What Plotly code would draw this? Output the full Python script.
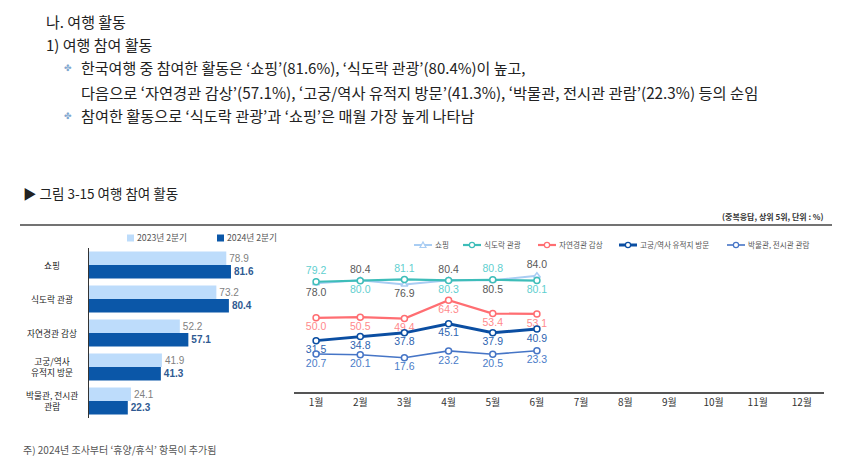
import plotly.graph_objects as go

W, H = 850, 475
OFF = 8  # page body margin of the html page

# ---------------- data ----------------
categories = ["쇼핑", "식도락 관광", "자연경관 감상", "고궁/역사 유적지 방문", "박물관, 전시관 관람"]
category_labels = ["쇼핑", "식도락 관광", "자연경관 감상", "고궁/역사<br>유적지 방문", "박물관, 전시관<br>관람"]
series_bar = ["2023년 2분기", "2024년 2분기"]
q2_2023 = [78.9, 73.2, 52.2, 41.9, 24.1]
q2_2024 = [81.6, 80.4, 57.1, 41.3, 22.3]

months = ["1월", "2월", "3월", "4월", "5월", "6월", "7월", "8월", "9월", "10월", "11월", "12월"]
series_line = ["쇼핑", "식도락 관광", "자연경관 감상", "고궁/역사 유적지 방문", "박물관, 전시관 관람"]
shopping = [78.0, 80.4, 76.9, 80.4, 80.5, 84.0]
food = [79.2, 80.0, 81.1, 80.3, 80.8, 80.1]
nature = [50.0, 50.5, 49.4, 64.3, 53.4, 53.1]
palace = [31.5, 34.8, 37.8, 45.1, 37.9, 40.9]
museum = [20.7, 20.1, 17.6, 23.2, 20.5, 23.3]

# label placement (above / below)
T, B = "top center", "bottom center"
shopping_pos = [B, T, B, T, B, T]
food_pos = [T, B, T, B, T, B]
nature_pos = [B, B, B, B, B, B]
palace_pos = [B, B, B, B, B, B]
museum_pos = [B, B, B, B, B, B]


def px(x):
    return (x - OFF) / W


def py(y):
    return 1 - (y - OFF) / H


KR = "Noto Sans CJK KR"
NUM = "Liberation Sans, Noto Sans CJK KR"

fig = go.Figure()

bar_colors = ["#BDDCFB", "#0B57A8"]

# ---------------- bar chart ----------------
fig.add_trace(go.Bar(
    y=categories, x=q2_2023, orientation="h", name=series_bar[0],
    marker=dict(color=bar_colors[0], line=dict(width=0)),
    text=[f"{v:.1f}" for v in q2_2023], textposition="outside",
    textfont=dict(family=NUM, size=10, color="#7F7F7F"),
    cliponaxis=False, xaxis="x", yaxis="y", showlegend=False,
))
fig.add_trace(go.Bar(
    y=categories, x=q2_2024, orientation="h", name=series_bar[1],
    marker=dict(color=bar_colors[1], line=dict(width=0)),
    text=[f"<b>{v:.1f}</b>" for v in q2_2024], textposition="outside",
    textfont=dict(family=NUM, size=10, color="#2F5A92"),
    cliponaxis=False, xaxis="x", yaxis="y", showlegend=False,
))

# ---------------- line chart ----------------
line_specs = [
    (shopping, shopping_pos, "#A9CDF3", 2, "triangle-up", "#595959"),
    (food, food_pos, "#3EBDB9", 2.2, "circle", "#5FCFCF"),
    (nature, nature_pos, "#FF6E72", 2.2, "circle", "#FF8A8C"),
    (palace, palace_pos, "#0B4EA2", 3, "circle", "#2E64B0"),
    (museum, museum_pos, "#4675C6", 1.6, "circle", "#4A7CC8"),
]
for name, (vals, pos, col, w, sym, tcol) in zip(series_line, line_specs):
    fig.add_trace(go.Scatter(
        x=months[:len(vals)], y=vals, name=name, mode="lines+markers+text",
        line=dict(color=col, width=w),
        marker=dict(symbol=sym, size=6, color="white", line=dict(color=col, width=1.5)),
        text=[f"{v:.1f}" for v in vals], textposition=pos,
        textfont=dict(family=NUM, size=10.5, color=tcol),
        cliponaxis=False, xaxis="x2", yaxis="y2", showlegend=False,
    ))

# ---------------- annotations ----------------
ann = []
shapes = []


def text(x, y, s, size, color="#222222", anchor="left", family=KR, **kw):
    ann.append(dict(x=px(x), y=py(y), xref="paper", yref="paper", text=s, showarrow=False,
                    xanchor=anchor, yanchor="middle", font=dict(family=family, size=size, color=color), **kw))


text(44, 21, "나. 여행 활동", 15)
text(44, 45, "1) 여행 참여 활동", 15)
text(62, 68, "✤", 9, color="#7FA7CF")
text(79, 68, "한국여행 중 참여한 활동은 ‘쇼핑’(81.6%), ‘식도락 관광’(80.4%)이 높고,", 15)
text(79, 92, "다음으로 ‘자연경관 감상’(57.1%), ‘고궁/역사 유적지 방문’(41.3%), ‘박물관, 전시관 관람’(22.3%) 등의 순임", 15.3)
text(62, 115, "✤", 9, color="#7FA7CF")
text(79, 115, "참여한 활동으로 ‘식도락 관광’과 ‘쇼핑’은 매월 가장 높게 나타남", 15.2)

text(21, 193, "▶ 그림 3-15 여행 참여 활동", 13.5)
text(826, 217, "<b>(중복응답, 상위 5위, 단위 : %)</b>", 8, color="#333333", anchor="right")
text(21, 449, "주) 2024년 조사부터 ‘휴양/휴식’ 항목이 추가됨", 10, color="#555555")

# bar category labels, centred
for c, lab in zip(categories, category_labels):
    ann.append(dict(x=px(52), y=c, xref="paper", yref="y", text=lab, showarrow=False,
                    xanchor="center", yanchor="middle", align="center",
                    font=dict(family=KR, size=8.7, color="#222222")))

# bar legend (manual)
for name, col, lx in zip(series_bar, bar_colors, [127, 217]):
    shapes.append(dict(type="rect", xref="paper", yref="paper", x0=px(lx), x1=px(lx + 7),
                       y0=py(241.5), y1=py(234.5), fillcolor=col, line=dict(width=0)))
    text(lx + 7.5, 238, name, 8.7, color="#555555")

# line legend (manual)
leg_x = [414, 463, 538, 619, 727]
for name, (vals, pos, col, w, sym, tcol), lx in zip(series_line, line_specs, leg_x):
    L = 18
    shapes.append(dict(type="line", xref="paper", yref="paper", x0=px(lx), x1=px(lx + L),
                       y0=py(245), y1=py(245), line=dict(color=col, width=w)))
    cx = lx + L / 2
    if sym == "circle":
        shapes.append(dict(type="circle", xref="paper", yref="paper", x0=px(cx - 2.6), x1=px(cx + 2.6),
                           y0=py(247.6), y1=py(242.4), fillcolor="white", line=dict(color=col, width=1.2)))
    else:
        shapes.append(dict(type="path", xref="paper", yref="paper",
                           path=f"M{px(cx - 3)},{py(247.5)} L{px(cx + 3)},{py(247.5)} L{px(cx)},{py(242)} Z",
                           fillcolor="white", line=dict(color=col, width=1.2)))
    text(lx + L + 1, 245, name, 7.6, color="#555555")

shapes.append(dict(type="line", xref="paper", yref="paper", x0=px(20), x1=px(832), y0=py(225), y1=py(225),
                   line=dict(color="#444444", width=1.5)))

fig.update_layout(
    width=W, height=H, margin=dict(l=0, r=0, t=0, b=0, autoexpand=False),
    paper_bgcolor="white", plot_bgcolor="white",
    font=dict(family=KR, color="#222222"),
    barmode="group", bargap=0.2, bargroupgap=0,
    annotations=ann, shapes=shapes, showlegend=False,
    xaxis=dict(domain=[px(89), px(263)], range=[0, 100], visible=False, fixedrange=True),
    yaxis=dict(domain=[py(418), py(248)], autorange="reversed", showticklabels=False,
               showline=True, linecolor="#333333", linewidth=1.2, ticks="", showgrid=False, zeroline=False),
    xaxis2=dict(domain=[px(294), px(824)], type="category", categoryorder="array", categoryarray=months,
                range=[-0.5, 11.5], showline=True, linecolor="#555555", linewidth=1.5, ticks="",
                showgrid=False, zeroline=False, anchor="y2",
                tickfont=dict(family=KR, size=10, color="#333333")),
    yaxis2=dict(domain=[py(392), py(250)], range=[-10.1, 104.9], visible=False, anchor="x2"),
)

fig.write_html("out.html")
